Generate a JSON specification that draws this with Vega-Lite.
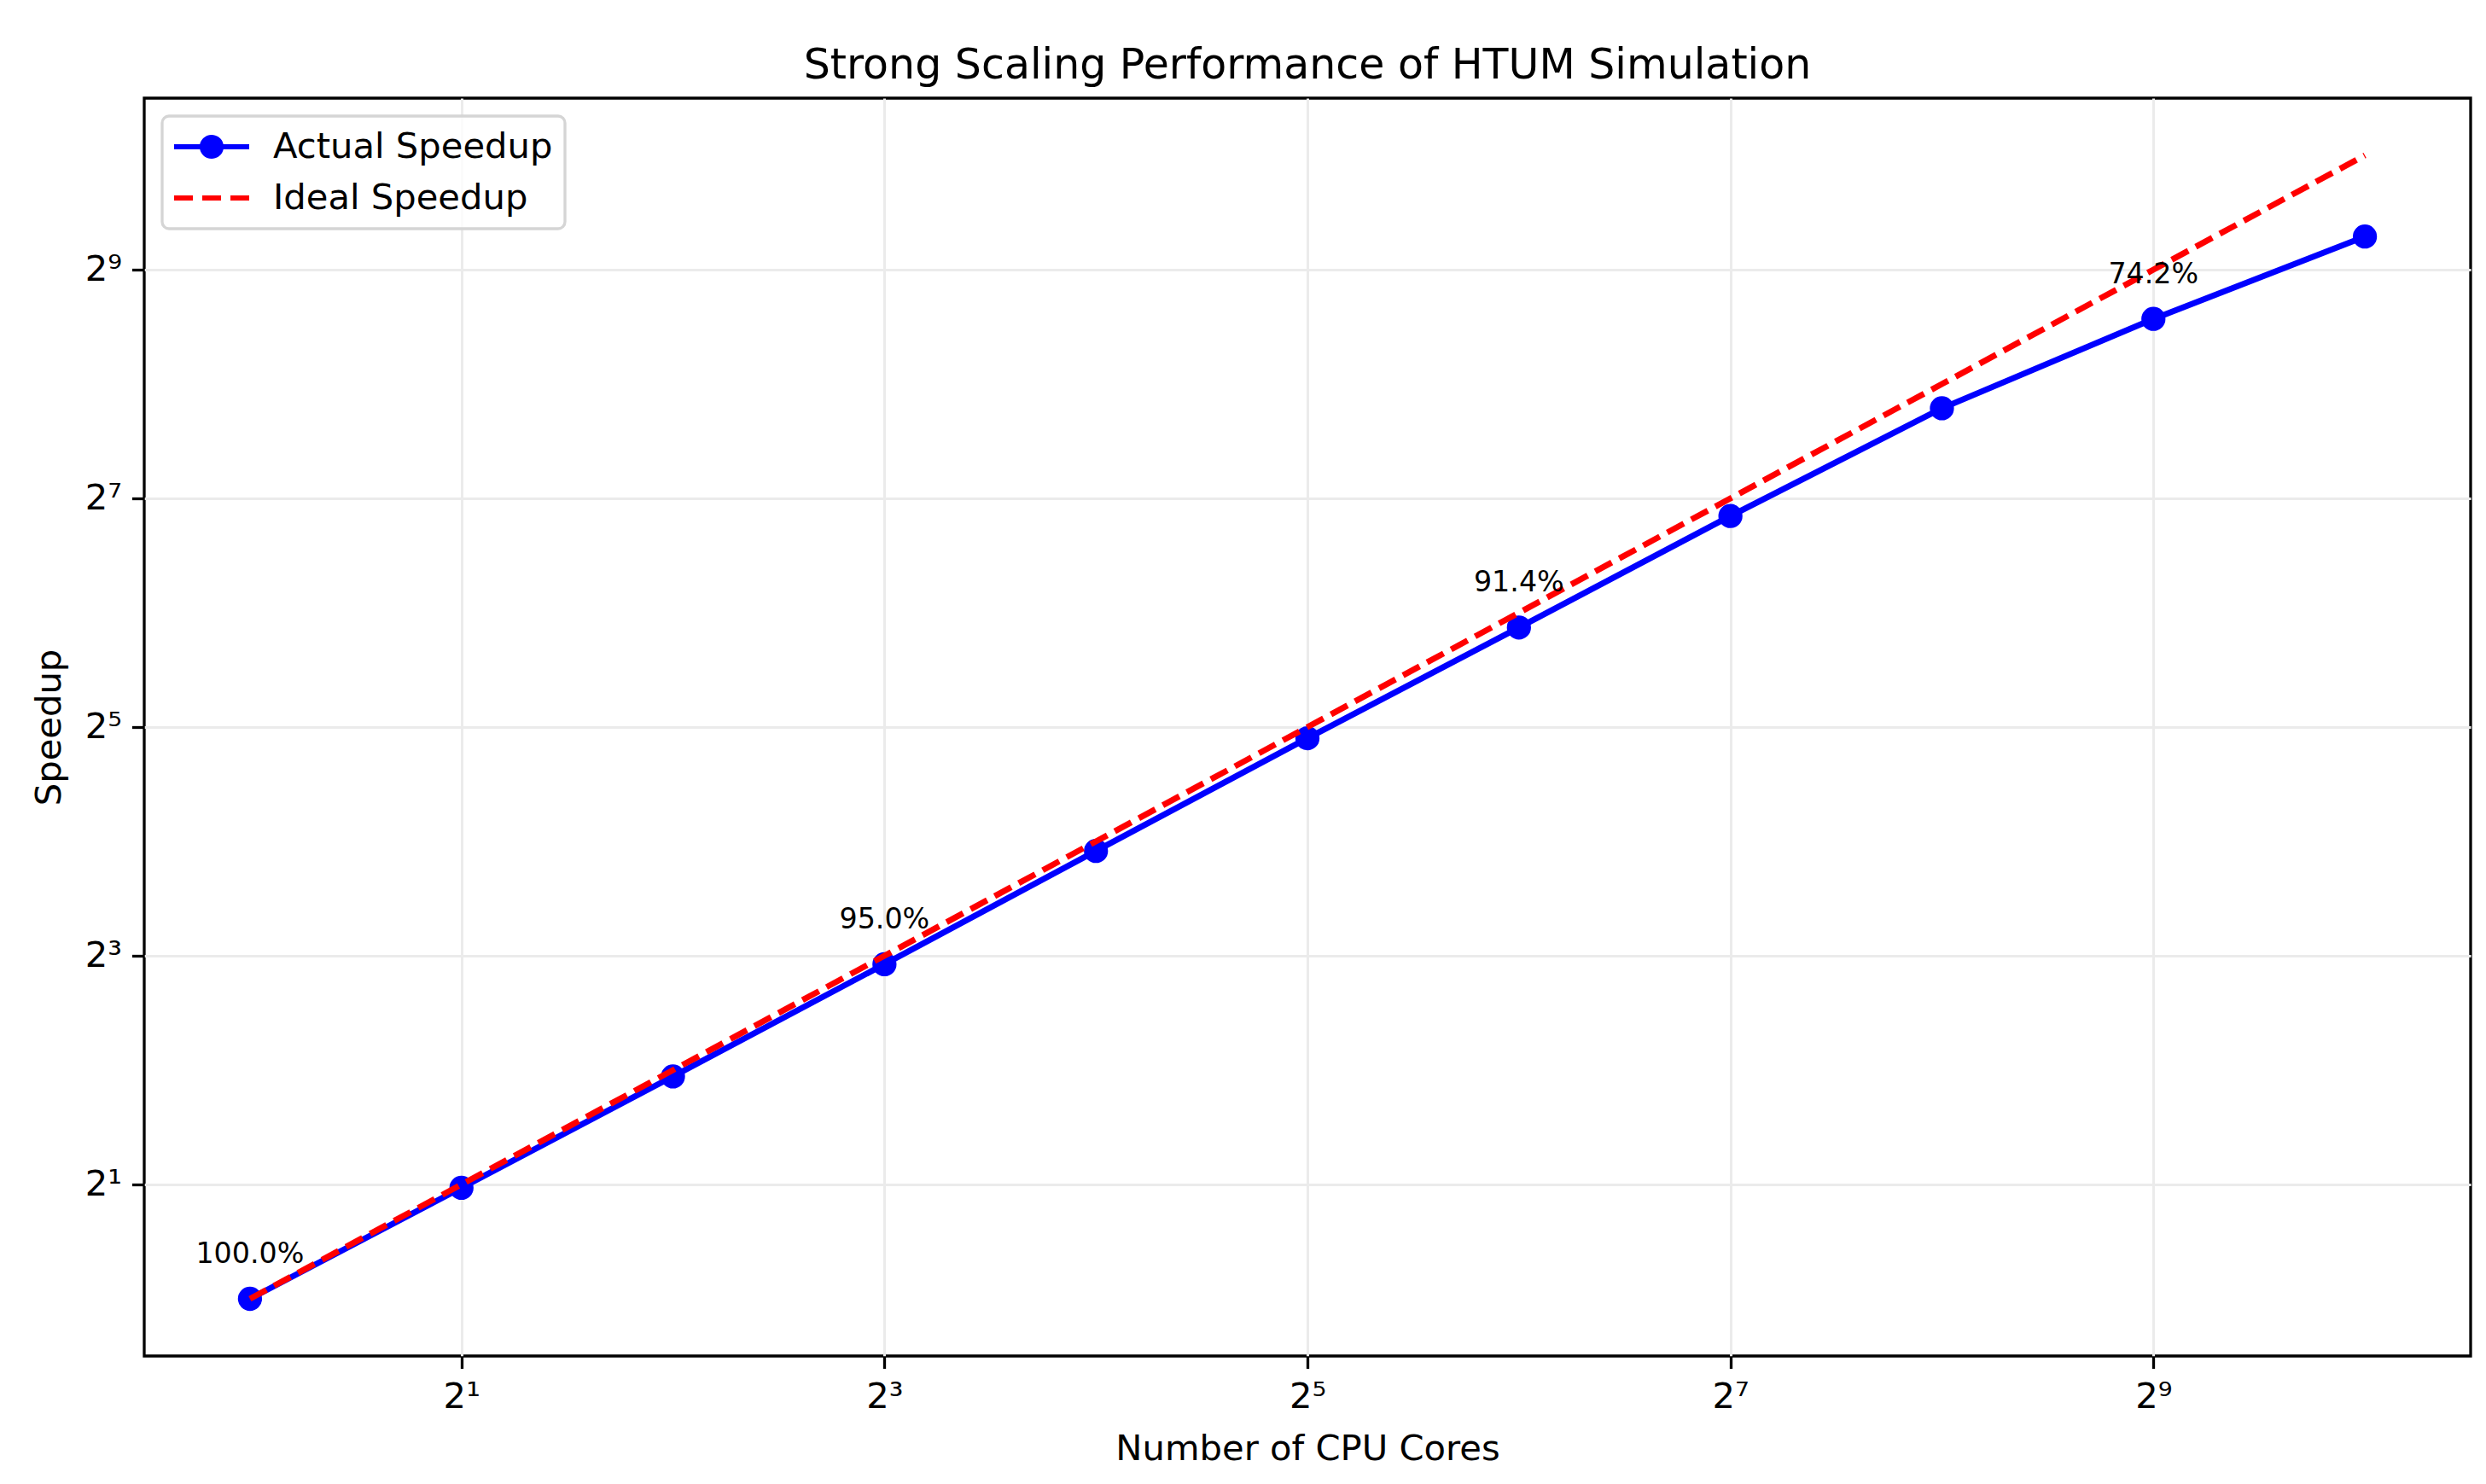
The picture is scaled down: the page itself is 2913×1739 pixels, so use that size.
{
  "$schema": "https://vega.github.io/schema/vega-lite/v6.json",
  "width": 2726,
  "height": 1474,
  "autosize": {"type": "none"},
  "padding": {"left": 169, "top": 115, "right": 18, "bottom": 150},
  "background": "white",
  "title": {
    "text": "Strong Scaling Performance of HTUM Simulation",
    "font": "DejaVu Sans",
    "fontSize": 49,
    "fontWeight": "normal",
    "color": "black",
    "offset": 13,
    "anchor": "middle"
  },
  "config": {
    "view": {"stroke": "black", "strokeWidth": 3.3},
    "font": "DejaVu Sans"
  },
  "data": {
    "values": [
      {"cores": 1, "speedup": 1.0, "series": "Actual Speedup", "label": "100.0%"},
      {"cores": 2, "speedup": 1.96, "series": "Actual Speedup"},
      {"cores": 4, "speedup": 3.85, "series": "Actual Speedup"},
      {"cores": 8, "speedup": 7.6, "series": "Actual Speedup", "label": "95.0%"},
      {"cores": 16, "speedup": 15.1, "series": "Actual Speedup"},
      {"cores": 32, "speedup": 29.9, "series": "Actual Speedup"},
      {"cores": 64, "speedup": 58.5, "series": "Actual Speedup", "label": "91.4%"},
      {"cores": 128, "speedup": 115.0, "series": "Actual Speedup"},
      {"cores": 256, "speedup": 221.0, "series": "Actual Speedup"},
      {"cores": 512, "speedup": 379.9, "series": "Actual Speedup", "label": "74.2%"},
      {"cores": 1024, "speedup": 626.0, "series": "Actual Speedup"},
      {"cores": 1, "speedup": 1, "series": "Ideal Speedup"},
      {"cores": 2, "speedup": 2, "series": "Ideal Speedup"},
      {"cores": 4, "speedup": 4, "series": "Ideal Speedup"},
      {"cores": 8, "speedup": 8, "series": "Ideal Speedup"},
      {"cores": 16, "speedup": 16, "series": "Ideal Speedup"},
      {"cores": 32, "speedup": 32, "series": "Ideal Speedup"},
      {"cores": 64, "speedup": 64, "series": "Ideal Speedup"},
      {"cores": 128, "speedup": 128, "series": "Ideal Speedup"},
      {"cores": 256, "speedup": 256, "series": "Ideal Speedup"},
      {"cores": 512, "speedup": 512, "series": "Ideal Speedup"},
      {"cores": 1024, "speedup": 1024, "series": "Ideal Speedup"}
    ]
  },
  "encoding": {
    "x": {
      "field": "cores",
      "type": "quantitative",
      "scale": {"type": "log", "base": 2, "domain": [0.7071, 1448.15], "nice": false, "zero": false},
      "axis": {
        "values": [2, 8, 32, 128, 512],
        "labelExpr": "datum.value == 2 ? '2¹' : datum.value == 8 ? '2³' : datum.value == 32 ? '2⁵' : datum.value == 128 ? '2⁷' : '2⁹'",
        "title": "Number of CPU Cores",
        "titleFont": "DejaVu Sans",
        "titleFontSize": 41.7,
        "titleFontWeight": "normal",
        "titleColor": "black",
        "titlePadding": 19,
        "labelFont": "DejaVu Sans",
        "labelFontSize": 41.7,
        "labelColor": "black",
        "labelPadding": 13,
        "labelFlush": false,
        "labelOverlap": false,
        "tickSize": 14.6,
        "tickWidth": 3.3,
        "tickColor": "black",
        "domain": false,
        "grid": true,
        "gridColor": "#ebebeb",
        "gridWidth": 3
      }
    },
    "y": {
      "field": "speedup",
      "type": "quantitative",
      "scale": {"type": "log", "base": 2, "domain": [0.7071, 1448.15], "nice": false, "zero": false},
      "axis": {
        "values": [2, 8, 32, 128, 512],
        "labelExpr": "datum.value == 2 ? '2¹' : datum.value == 8 ? '2³' : datum.value == 32 ? '2⁵' : datum.value == 128 ? '2⁷' : '2⁹'",
        "title": "Speedup",
        "titleFont": "DejaVu Sans",
        "titleFontSize": 41.7,
        "titleFontWeight": "normal",
        "titleColor": "black",
        "titlePadding": 20,
        "labelFont": "DejaVu Sans",
        "labelFontSize": 41.7,
        "labelColor": "black",
        "labelPadding": 12,
        "labelFlush": false,
        "labelOverlap": false,
        "tickSize": 14.6,
        "tickWidth": 3.3,
        "tickColor": "black",
        "domain": false,
        "grid": true,
        "gridColor": "#ebebeb",
        "gridWidth": 3
      }
    }
  },
  "layer": [
    {
      "transform": [{"filter": "datum.series == 'Actual Speedup'"}],
      "mark": {"type": "line", "color": "#0000ff", "strokeWidth": 7},
      "encoding": {}
    },
    {
      "transform": [{"filter": "datum.series == 'Actual Speedup'"}],
      "mark": {"type": "point", "filled": true, "shape": "circle", "size": 800, "color": "#0000ff", "opacity": 1},
      "encoding": {}
    },
    {
      "transform": [{"filter": "datum.series == 'Ideal Speedup'"}],
      "mark": {"type": "line", "color": "#ff0000", "strokeWidth": 7, "strokeDash": [22, 10]},
      "encoding": {}
    },
    {
      "mark": {"type": "point", "filled": true, "size": 1936, "opacity": 0},
      "encoding": {
        "color": {
          "field": "series",
          "type": "nominal",
          "scale": {"domain": ["Actual Speedup", "Ideal Speedup"], "range": ["#0000ff", "#ff0000"]},
          "legend": {
            "title": null,
            "orient": "top-left",
            "offset": 21,
            "padding": 14,
            "strokeColor": "#d5d5d5",
            "cornerRadius": 8,
            "fillColor": "rgba(255,255,255,0.8)",
            "labelFont": "DejaVu Sans",
            "labelFontSize": 41.7,
            "labelColor": "black",
            "labelOffset": 72,
            "labelLimit": 1000,
            "rowPadding": 16,
            "symbolSize": 1936,
            "symbolStrokeWidth": 0,
            "symbolOpacity": 1,
            "encode": {"legend": {"update": {"strokeWidth": {"value": 3.3}}}}
          }
        },
        "shape": {
          "field": "series",
          "type": "nominal",
          "scale": {
            "domain": ["Actual Speedup", "Ideal Speedup"],
            "range": [
              "M-1,-0.14H3V0.14H-1Z M0.36,0A0.64,0.64 0 1,1 1.64,0A0.64,0.64 0 1,1 0.36,0Z",
              "M-1,-0.14H0V0.14H-1Z M0.5,-0.14H1.5V0.14H0.5Z M2,-0.14H3V0.14H2Z"
            ]
          }
        }
      }
    },
    {
      "transform": [{"filter": "isValid(datum.label)"}],
      "mark": {"type": "text", "font": "DejaVu Sans", "fontSize": 33.3, "color": "black", "dy": -52, "baseline": "middle", "align": "center"},
      "encoding": {"text": {"field": "label", "type": "nominal"}}
    }
  ]
}
